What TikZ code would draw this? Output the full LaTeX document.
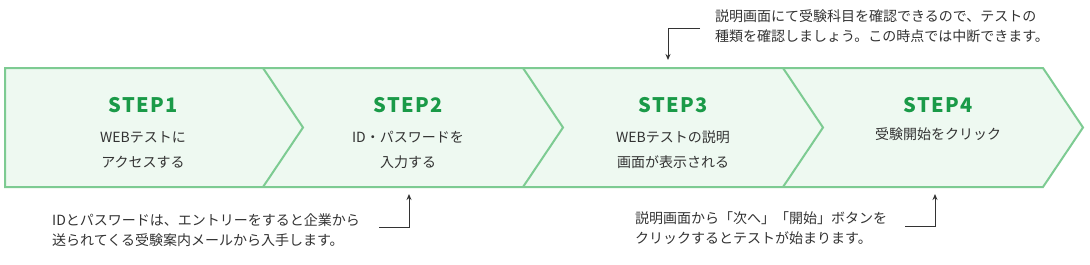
\documentclass[tikz,border=0pt]{standalone}
\usepackage{fontspec}
\setmainfont{Noto Sans CJK JP}
\usepackage{tikz}
\usetikzlibrary{arrows.meta,positioning}
\definecolor{stepgreen}{RGB}{26,154,72}
\definecolor{edgegreen}{RGB}{125,203,146}
\definecolor{bandfill}{RGB}{238,249,241}
\definecolor{notegray}{RGB}{51,51,51}

\begin{document}
\begin{tikzpicture}[x=1pt,y=-1pt,>={Stealth[length=6pt,width=5pt]},
    steplabel/.style={font=\fontsize{20}{20}\selectfont\bfseries\addfontfeatures{LetterSpace=6},
                      text=stepgreen,inner sep=0pt,anchor=base},
    stepbody/.style={font=\fontsize{14}{25}\selectfont,align=center,text=notegray,
                     inner sep=0pt,anchor=base},
    note/.style={font=\fontsize{14}{20}\selectfont,align=left,text=notegray,inner sep=0pt,
                 anchor=north west},
    edge/.style={edgegreen,line width=2pt},
    link/.style={->,notegray,line width=1pt}]
  \useasboundingbox (0,0) rectangle (1090,265);
  % the band of four chevrons
  \fill[bandfill] (5,68) -- (1043,68) -- (1083,127.5) -- (1043,187) -- (5,187) -- cycle;
  \draw[edge] (5,68) -- (1043,68) -- (1083,127.5) -- (1043,187) -- (5,187) -- cycle;
  \foreach \k in {0,1,2}{
    \draw[edge] ({263+260*\k},68) -- ({303+260*\k},127.5) -- ({263+260*\k},187);
  }
  % step titles and texts (base of a two-line node = its last line)
  \node[steplabel] (step1) at (143,112) {STEP1};
  \node[steplabel] (step2) at (408,112) {STEP2};
  \node[steplabel] (step3) at (673,112) {STEP3};
  \node[steplabel] (step4) at (938,112) {STEP4};
  \node[stepbody] (body1) at (143,167) {WEBテストに\\アクセスする};
  \node[stepbody] (body2) at (408,167) {ID・パスワードを\\入力する};
  \node[stepbody] (body3) at (673,167) {WEBテストの説明\\画面が表示される};
  \node[stepbody] (body4) at (938,139) {受験開始をクリック};
  % notes with their arrows
  \node[note] (note3) at (715,9.5)
       {説明画面にて受験科目を確認できるので、テストの\\種類を確認しましょう。この時点では中断できます。};
  \node[note] (note2) at (52,213.5)
       {IDとパスワードは、エントリーをすると企業から\\送られてくる受験案内メールから入手します。};
  \node[note] (note4) at (635,211)
       {説明画面から「次へ」「開始」ボタンを\\クリックするとテストが始まります。};
  \coordinate (from3) at (700,28);
  \coordinate (in3) at (668,60);
  \coordinate (from2) at (379,227);
  \coordinate (in2) at (409,194);
  \coordinate (from4) at (905,226);
  \coordinate (in4) at (935,194);
  \draw[link] (from3) -| (in3);
  \draw[link] (from2) -| (in2);
  \draw[link] (from4) -| (in4);
\end{tikzpicture}
\end{document}
